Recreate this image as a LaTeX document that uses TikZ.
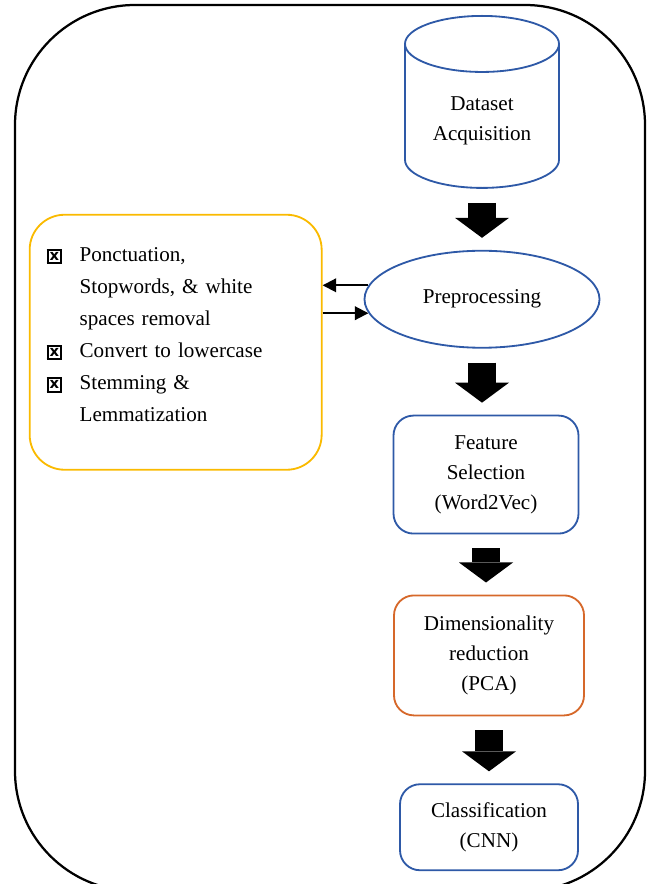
\documentclass[tikz,border=0pt]{standalone}
\usepackage{fontspec}
\setmainfont{Liberation Serif}
\newfontfamily\symbolfont{DejaVu Sans}
\usepackage{tikz}
\usetikzlibrary{positioning, shapes.geometric, arrows.meta}
\definecolor{flowblue}{RGB}{46,89,167}
\definecolor{floworange}{RGB}{214,104,42}
\definecolor{flowyellow}{RGB}{250,186,0}
\newcommand{\tickbox}{\makebox[8.25mm][l]{\raisebox{-0.6pt}{\setlength\fboxsep{0.3pt}\setlength\fboxrule{1.4pt}%
  \fbox{\hbox to 7.6pt{\hss\vbox to 7.6pt{\vss\hbox{\symbolfont\bfseries\fontsize{10.5}{10.5}\selectfont x}\vss}\hss}}}}}
\newcommand{\tickpad}{\hspace*{8.25mm}}

\begin{document}
\begin{tikzpicture}[
    x=0.25mm, y=-0.25mm,
    node distance=15mm,
    every node/.style={font=\fontsize{15}{21.5}\selectfont, align=center},
    store/.style   ={cylinder, shape border rotate=90, aspect=0.52, draw=flowblue, line width=1.3pt, minimum width=38.5mm, minimum height=43mm},
    stage/.style   ={ellipse, draw=flowblue, line width=1.3pt, minimum width=58.75mm, minimum height=24.25mm, inner sep=0pt},
    stepbox/.style ={rectangle, rounded corners=5mm, draw=flowblue, line width=1.3pt, minimum width=46.25mm, minimum height=29.5mm},
    listbox/.style ={rectangle, rounded corners=8.75mm, draw=flowyellow, line width=1.3pt, minimum width=73mm, minimum height=63.75mm,
                     text width=64.5mm, inner xsep=4.25mm, align=left, font=\fontsize{15}{22.8}\selectfont},
    frame/.style   ={line width=1.6pt, rounded corners=30mm},
    bigarrow/.style={line width=7mm, -{Triangle[width=13.5mm, length=5mm, line width=0pt 0]}, shorten <=3.5mm, shorten >=3mm},
    link/.style    ={line width=1.4pt, -{Triangle[width=3.4mm, length=3.4mm]}}
]
\useasboundingbox (0,0) rectangle (650,884);
\draw[frame] (15,5) rectangle (645,891);

% Main chain
\node[store, anchor=north] (data) at (482,15) {Dataset\\Acquisition};
\node[stage, below=15.25mm of data] (prep) {Preprocessing};
\node[stepbox, below=16.5mm of prep, xshift=1mm] (feat) {Feature\\Selection\\(Word2Vec)};
\node[stepbox, draw=floworange, minimum width=47.5mm, minimum height=30mm, below=15mm of feat, xshift=0.75mm] (pca)
  {Dimensionality\\reduction\\(PCA)};
\node[stepbox, minimum width=44.5mm, minimum height=21.5mm, below=16.75mm of pca] (cnn) {Classification\\(CNN)};

% Preprocessing steps
\node[listbox, left=10.25mm of prep, yshift=-10.75mm] (clean)
  {\tickbox Ponctuation,\\
   \tickpad Stopwords, \& white\\
   \tickpad spaces removal\\
   \tickbox Convert to lowercase\\
   \tickbox Stemming \&\\
   \tickpad Lemmatization\\[-4mm]\mbox{}};

% Arrows
\draw[bigarrow] (data.south) -- (data.south |- prep.north);
\draw[bigarrow] (prep.south) -- (prep.south |- feat.north);
\draw[bigarrow] (feat.south) -- (feat.south |- pca.north);
\draw[bigarrow] (pca.south)  -- (pca.south |- cnn.north);
\draw[link] (prep.173) -- (prep.173 -| clean.east);
\draw[link] (prep.187 -| clean.east) -- (prep.187);

\end{tikzpicture}
\end{document}
